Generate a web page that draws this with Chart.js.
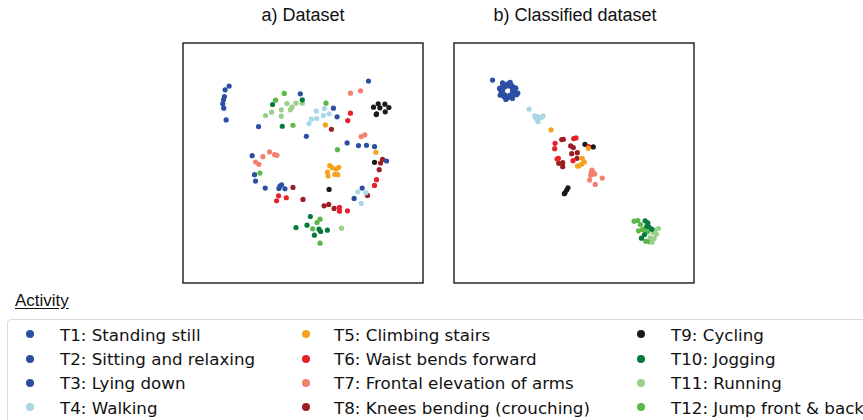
<!DOCTYPE html>
<html>
<head>
<meta charset="utf-8">
<script src="https://cdn.jsdelivr.net/npm/chart.js@4/dist/chart.umd.min.js"></script>
<style>
  html, body { margin: 0; padding: 0; background: #fff; }
  #page { position: relative; width: 863px; height: 420px; overflow: hidden; background: #fff; }
  .title { position: absolute; top: 5px; font-family: "Liberation Sans", Arial, sans-serif; font-size: 18px; color: #111; transform: translateX(-50%); white-space: nowrap; }
  .panel { position: absolute; top: 38px; width: 250px; height: 250px; }
  #legendHead { position: absolute; left: 15px; top: 291px; font-family: "Liberation Sans", Arial, sans-serif; font-size: 17px; color: #111; text-decoration: underline; text-underline-offset: 2px; }
  #legendBox { position: absolute; left: 7px; top: 319px; width: 900px; height: 140px; border: 1.5px solid #dadada; border-radius: 4px; box-sizing: border-box; }
  .item { position: absolute; font-family: "DejaVu Sans", sans-serif; font-size: 16.7px; color: #111; white-space: nowrap; line-height: 20px; }
  .dot { position: absolute; width: 8px; height: 8px; border-radius: 50%; }
</style>
</head>
<body>
<div id="page">
  <div class="title" style="left:303px">a) Dataset</div>
  <div class="title" style="left:575px">b) Classified dataset</div>
  <div class="panel" style="left:178px"><canvas id="chartA" width="250" height="250"></canvas></div>
  <div class="panel" style="left:449px"><canvas id="chartB" width="250" height="250"></canvas></div>
  <div id="legendHead">Activity</div>
  <div id="legendBox"></div>
  <div id="legendItems"></div>
</div>
<script>
// Activity names and their colours
const activities = [
  "T1: Standing still", "T2: Sitting and relaxing", "T3: Lying down", "T4: Walking",
  "T5: Climbing stairs", "T6: Waist bends forward", "T7: Frontal elevation of arms",
  "T8: Knees bending (crouching)", "T9: Cycling", "T10: Jogging", "T11: Running",
  "T12: Jump front & back"
];
const colors = [
  "#2b4fa3", "#2b4fa3", "#2b4fa3", "#a8d8e6", "#f5a21d", "#e8202a",
  "#f2806f", "#9c1e22", "#1a1a1a", "#067a3c", "#9ad08a", "#5bb848"
];

// a) raw feature embedding, [x, y] per sample
const a_T1 = [[-22.1,23.0],[-23.3,21.9],[-23.5,19.9],[-23.8,18.9],[-24.0,17.7],[-23.7,16.4],[-23.0,12.9]];
const a_T2 = [[-0.8,20.7],[19.6,24.5],[9.1,16.4],[10.2,13.8],[-13.3,10.9],[1.0,8.0],[13.2,6.0],[16.6,5.2],[19.0,5.3],[21.4,4.9],[25.0,0.6]];
const a_T3 = [[-15.2,2.2],[-14.5,-3.5],[-14.2,-5.4],[-11.3,-7.5],[-7.2,-7.6],[-6.9,-6.9],[-6.4,-6.5],[-5.4,-7.7],[17.7,-7.5],[15.3,-10.6]];
const a_T4 = [[4.0,15.5],[6.4,16.3],[6.1,14.2],[7.8,14.7],[2.5,13.1],[1.8,11.8],[4.1,13.3],[16.4,-8.6],[18.8,-8.9],[17.4,-12.1]];
const a_T5 = [[6.7,11.4],[21.8,3.2],[8.0,-0.8],[8.7,-1.4],[9.9,-1.8],[10.7,-1.3],[7.3,-2.7],[9.5,-3.4],[10.4,-3.5],[7.5,-3.9]];
const a_T6 = [[14.2,14.9],[13.4,12.7],[22.0,-5.0],[21.4,-6.7],[-7.3,-9.8],[-7.9,-11.3],[-5.0,-10.4],[10.9,-13.3],[10.9,-14.4],[13.3,-14.3]];
const a_T7 = [[14.2,20.9],[17.2,21.6],[17.4,7.9],[18.5,8.4],[-10.0,3.3],[-8.5,2.5],[-7.8,2.3],[-12.0,1.9],[-14.2,0.3],[-13.2,-0.4]];
const a_T8 = [[8.5,10.1],[23.8,1.1],[23.2,0.0],[22.8,-2.0],[19.3,-9.7],[-3.0,-7.3],[0.0,-10.9],[6.3,-12.8],[7.7,-12.4],[9.3,-13.6]];
const a_T9 = [[21.1,16.7],[22.5,17.7],[24.5,17.6],[25.7,16.6],[23.0,16.5],[22.0,14.7],[21.9,14.5],[24.6,15.3],[21.4,0.2],[7.8,-7.9]];
const a_T10 = [[-0.2,18.9],[-9.1,17.5],[-6.2,11.0],[2.2,-16.0],[1.2,-18.6],[-2.1,-19.3],[4.8,-19.8],[5.3,-20.5],[3.4,-21.6],[7.3,-20.1]];
const a_T11 = [[-4.8,17.8],[-2.1,17.9],[-0.2,17.9],[-3.3,16.7],[-3.8,15.9],[-6.5,15.9],[-9.4,15.2],[-11.2,14.2],[-6.5,14.0],[11.5,-19.5]];
const a_T12 = [[-5.6,20.8],[-8.2,18.8],[6.9,17.9],[-3.0,11.3],[10.3,4.0],[-12.9,-3.0],[5.1,-16.8],[4.2,-17.8],[2.9,-19.7],[5.1,-24.0]];

// b) embedding after classification
const b_T1 = [[-24.5,24.8],[-17.9,21.6],[-18.2,22.7],[-18.9,23.4],[-19.9,23.7],[-20.9,23.4],[-21.7,22.7],[-22.0,21.6],[-21.7,20.5]];
const b_T2 = [[-21.0,19.8],[-19.9,19.5],[-18.8,19.8],[-18.1,20.5],[-18.5,21.9],[-19.3,23.0],[-20.6,22.9],[-21.4,21.9],[-20.9,20.5]];
const b_T3 = [[-19.5,20.2],[-18.6,20.9],[-17.5,22.4],[-19.2,24.1],[-21.5,24.0],[-22.4,22.3],[-22.2,20.3],[-20.5,19.0],[-18.5,19.3],[-16.9,20.9],[-17.3,20.4]];
const b_T4 = [[-13.5,16.1],[-11.8,14.1],[-11.2,13.2],[-10.8,12.4],[-9.3,14.1],[-9.8,13.6],[-11.6,13.6],[-10.9,13.9]];
const b_T5 = [[-6.9,9.9],[4.3,4.4],[2.5,1.4],[3.1,0.3],[2.3,-0.4],[1.4,-0.9],[1.0,-0.9]];
const b_T6 = [[-0.1,7.3],[0.6,7.5],[-5.7,5.9],[-5.8,4.3],[-4.7,1.4],[-5.1,1.2],[-0.3,0.7],[4.4,4.9]];
const b_T7 = [[5.4,-2.1],[5.8,-2.9],[5.0,-3.7],[6.2,-3.3],[8.5,-4.5],[4.7,-5.1],[6.4,-6.4],[5.2,-2.7]];
const b_T8 = [[-3.2,7.1],[-3.7,7.0],[-1.0,5.1],[-0.2,4.6],[-0.7,2.8],[1.0,3.1],[0.9,1.4],[-4.6,-0.1],[-3.4,0.1],[-3.4,-1.1]];
const b_T9 = [[3.3,5.6],[5.8,4.8],[-1.8,-7.4],[-2.2,-8.1],[-2.7,-8.9],[-2.9,-9.2]];
const b_T10 = [[21.4,-17.3],[22.2,-17.9],[21.9,-18.9],[23.4,-19.8],[21.2,-21.4],[20.3,-22.5],[22.5,-19.1]];
const b_T11 = [[25.4,-19.6],[24.8,-21.3],[24.1,-22.6],[23.5,-23.7],[22.9,-22.3],[23.8,-20.8],[24.3,-20.1]];
const b_T12 = [[18.1,-17.4],[19.2,-17.2],[20.0,-18.4],[21.1,-19.8],[19.4,-20.3],[22.1,-20.6],[21.6,-23.4],[22.6,-23.5],[20.6,-19.9]];

const seriesA = [a_T1,a_T2,a_T3,a_T4,a_T5,a_T6,a_T7,a_T8,a_T9,a_T10,a_T11,a_T12];
const seriesB = [b_T1,b_T2,b_T3,b_T4,b_T5,b_T6,b_T7,b_T8,b_T9,b_T10,b_T11,b_T12];

// black frame around the plotting area
const framePlugin = {
  id: "frame",
  afterDraw(chart) {
    const { ctx, chartArea: c } = chart;
    ctx.save();
    ctx.strokeStyle = "#1a1a1a";
    ctx.lineWidth = 1.4;
    ctx.strokeRect(c.left, c.top, c.right - c.left, c.bottom - c.top);
    ctx.restore();
  }
};

function makePanel(id, series, xr, yr) {
  const datasets = series.map((pts, i) => ({
    label: activities[i],
    data: pts.map(p => ({ x: p[0], y: p[1] })),
    backgroundColor: colors[i],
    borderWidth: 0,
    pointRadius: 2.6,
    pointHoverRadius: 2.6
  }));
  new Chart(document.getElementById(id), {
    type: "scatter",
    data: { datasets },
    options: {
      responsive: false,
      animation: false,
      devicePixelRatio: 1,
      layout: { padding: 5 },
      plugins: { legend: { display: false }, tooltip: { enabled: false } },
      scales: {
        x: { type: "linear", display: false, min: -xr, max: xr },
        y: { type: "linear", display: false, min: -yr, max: yr }
      }
    },
    plugins: [framePlugin]
  });
}
makePanel("chartA", seriesA, 35.9, 35.9);
makePanel("chartB", seriesB, 36.1, 35.9);

// legend: three columns of four rows
const colDot = [30, 306, 641];
const colText = [60, 334, 671];
const rowY = [334, 358.5, 382.5, 407];
const holder = document.getElementById("legendItems");
activities.forEach((name, i) => {
  const col = Math.floor(i / 4), row = i % 4;
  const d = document.createElement("div");
  d.className = "dot";
  d.style.left = (colDot[col] - 4) + "px";
  d.style.top = (rowY[row] - 4) + "px";
  d.style.background = colors[i];
  holder.appendChild(d);
  const t = document.createElement("div");
  t.className = "item";
  t.textContent = name;
  t.style.left = colText[col] + "px";
  t.style.top = (rowY[row] - 9.5) + "px";
  holder.appendChild(t);
});
</script>
</body>
</html>
